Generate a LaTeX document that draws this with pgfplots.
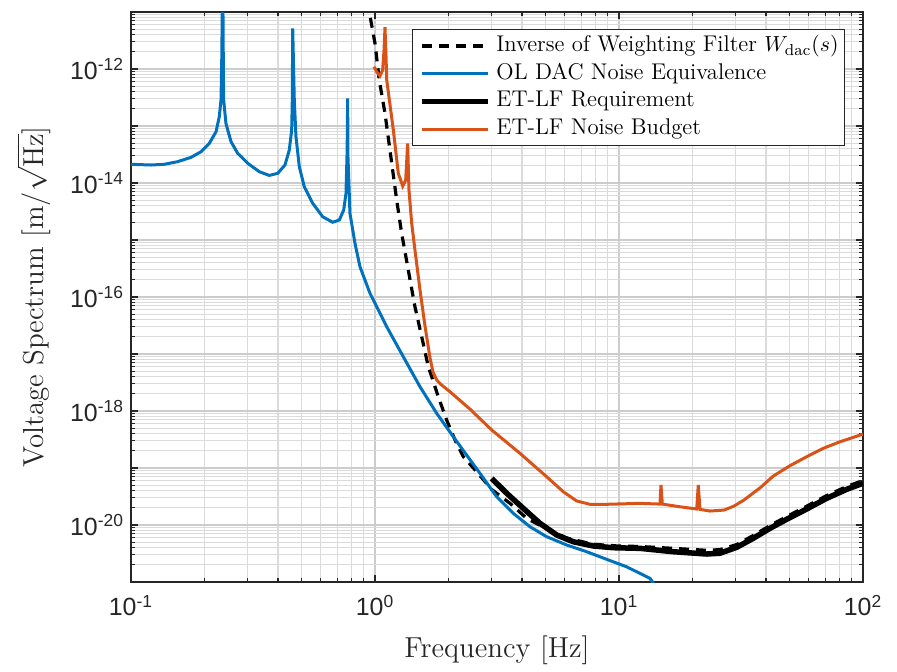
\documentclass[border=0pt]{standalone}
\usepackage{fontspec}
\usepackage{pgfplots}
\pgfplotsset{compat=1.18}
\newfontfamily\ticksf{Liberation Sans}
\definecolor{mblue}{rgb}{0,0.447,0.741}
\definecolor{morange}{rgb}{0.85,0.325,0.098}

\begin{document}
\begin{tikzpicture}
\begin{axis}[
  scale only axis, width=366bp, height=285bp,
  xmode=log, ymode=log,
  xmin=0.1, xmax=100, ymin=1e-21, ymax=1e-11,
  xtick={0.1,1,10,100},
  xticklabels={{10\textsuperscript{-1}},{10\textsuperscript{0}},{10\textsuperscript{1}},{10\textsuperscript{2}}},
  ytick={1e-21,1e-20,1e-19,1e-18,1e-17,1e-16,1e-15,1e-14,1e-13,1e-12,1e-11},
  yticklabels={{},{10\textsuperscript{-20}},{},{10\textsuperscript{-18}},{},{10\textsuperscript{-16}},{},{10\textsuperscript{-14}},{},{10\textsuperscript{-12}},{}},
  grid=both,
  major grid style={black!20, line width=0.6bp},
  minor grid style={black!14, line width=0.6bp},
  axis line style={black!85, line width=0.6bp},
  tick align=inside,
  tick style={black!85, line width=0.6bp},
  major tick length=3.5bp, minor tick length=2bp,
  ticklabel style={font=\ticksf\fontsize{12.5}{14}\selectfont, text=black!85},
  xticklabel style={yshift=-3bp},
  xlabel={Frequency [Hz]},
  ylabel={Voltage Spectrum [m/$\sqrt{\mathrm{Hz}}$]},
  label style={font=\fontsize{14.5}{17}\selectfont, text=black!85},
  xlabel style={at={(axis description cs:0.5,0)}, anchor=center, yshift=-34bp},
  ylabel style={at={(axis description cs:0,0.5)}, anchor=center, yshift=48.5bp},
  legend cell align=left,
  legend image code/.code={\draw[#1] (0bp,0bp) -- (33bp,0bp);},
  legend style={at={(axis description cs:1,1)}, anchor=north east,
    xshift=-9bp, yshift=-8.5bp, draw=black!85, line width=0.5bp, fill=white,
    font=\fontsize{11.4}{13}\selectfont, inner xsep=3bp, inner ysep=2.5bp,
    row sep=2.35bp, column sep=3bp,
    nodes={inner sep=0bp, text height=8.5bp, text depth=3bp}},
]
% inverse of weighting filter
\addplot[black, line width=1.6bp, dash pattern=on 5bp off 3.5bp] coordinates {
(0.93,1.55e-11)(0.9476,1e-11)(1.0,2.82e-12)(1.041,6.41e-13)(1.099,1.67e-13)
(1.171,2.22e-14)(1.227,5.04e-15)(1.286,1.31e-15)(1.369,2.98e-16)(1.458,6.76e-17)
(1.554,2.01e-17)(1.654,5.98e-18)(1.708,4.0e-18)(1.817,1.78e-18)(1.967,6.95e-19)
(2.128,3.1e-19)(2.301,1.58e-19)(2.611,8.6e-20)(3.008,4.2e-20)(3.576,2.40e-20)
(4.185,1.31e-20)(5.054,8.6e-21)(6.106,5.9e-21)(7.847,4.6e-21)(9.79,4.3e-21)
(12.19,4.2e-21)(16.69,3.9e-21)(22.88,3.6e-21)(25.94,3.7e-21)(30.37,4.55e-21)
(35.51,6.55e-21)(41.58,9.8e-21)(48.68,1.41e-20)(58.79,2.14e-20)(71.0,3.29e-20)
(85.76,4.74e-20)(100,6.05e-20)
};
\addlegendentry{Inverse of Weighting Filter $W_{\mathrm{dac}}(s)$}
% OL DAC noise equivalence
\addplot[mblue, line width=1.5bp] coordinates {
(0.1,2.13e-14)(0.1208,2.07e-14)(0.1369,2.13e-14)(0.1553,2.37e-14)(0.1762,2.82e-14)
(0.1936,3.54e-14)(0.2094,4.97e-14)(0.2231,7.94e-14)(0.2301,1.46e-13)(0.2338,2.86e-13)
(0.2353,1.1e-12)(0.2376,5e-11)(0.2391,1.0e-12)(0.2398,2.86e-13)(0.2450,1.11e-13)
(0.2570,5.31e-14)(0.2737,3.32e-14)(0.3009,2.22e-14)(0.3357,1.58e-14)(0.3688,1.36e-14)
(0.3993,1.48e-14)(0.4277,2.07e-14)(0.4454,3.79e-14)(0.4556,8.51e-14)(0.4582,2.86e-13)
(0.4600,5.18e-12)(0.4669,2.86e-13)(0.4744,6.49e-14)(0.4896,1.93e-14)(0.5131,8.61e-15)
(0.5556,4.41e-15)(0.6105,2.56e-15)(0.6709,2.05e-15)(0.7141,2.24e-15)(0.7443,3.36e-15)
(0.7607,6.59e-15)(0.7690,3.79e-14)(0.7727,3.06e-13)(0.7748,3.0e-14)(0.7896,2.94e-15)
(0.8279,8.75e-16)(0.8679,3.40e-16)(0.9539,1.16e-16)(1.117,3.01e-17)(1.306,8.97e-18)
(1.529,2.67e-18)(1.790,9.12e-19)(2.094,3.54e-19)(2.266,2.22e-19)(2.693,8.07e-20)
(3.153,3.13e-20)(3.688,1.60e-20)(4.317,9.33e-21)(5.054,6.24e-21)(6.106,4.46e-21)
(7.373,3.40e-21)(8.904,2.50e-21)(10.75,1.85e-21)(13.40,1.16e-21)(14.2,8e-22)
};
\addlegendentry{OL DAC Noise Equivalence}
% ET-LF requirement
\addplot[black, line width=2.75bp] coordinates {
(3.008,6.59e-20)(3.466,3.60e-20)(4.053,1.96e-20)(4.746,1.07e-20)(5.556,6.68e-21)
(6.496,5.09e-21)(7.847,4.29e-21)(9.475,4.0e-21)(12.19,3.90e-21)(16.69,3.40e-21)
(22.88,3.10e-21)(25.94,3.2e-21)(30.37,4.06e-21)(35.51,5.85e-21)(41.58,8.75e-21)
(48.68,1.26e-20)(58.79,1.91e-20)(71.0,2.94e-20)(85.76,4.23e-20)(100,5.4e-20)
};
\addlegendentry{ET-LF Requirement}
% ET-LF noise budget
\addplot[morange, line width=1.5bp] coordinates {
(0.9906,1.10e-12)(1.016,8.97e-13)(1.048,7.54e-13)(1.075,9.59e-13)(1.089,2.16e-12)
(1.099,5.40e-12)(1.110,1.6e-12)(1.117,6.41e-13)(1.189,8.51e-14)(1.246,1.48e-14)
(1.299,8.85e-15)(1.336,1.13e-14)(1.361,4.97e-14)(1.378,7.54e-15)(1.414,1.96e-15)
(1.458,6.68e-16)(1.529,1.33e-16)(1.603,3.1e-17)(1.681,8.5e-18)(1.729,4.83e-18)
(1.790,3.50e-18)(1.865,2.92e-18)(2.029,2.18e-18)(2.451,1.08e-18)(3.008,4.65e-19)
(3.929,1.81e-19)(5.054,7.03e-20)(5.911,3.84e-20)(6.708,2.64e-20)(7.605,2.31e-20)
(8.904,2.31e-20)(12.19,2.40e-20)(14.72,2.33e-20)(14.86,5.04e-20)(15.05,2.33e-20)
(17.78,2.09e-20)(20.82,1.91e-20)(21.13,5.04e-20)(21.48,1.88e-20)(23.6,1.76e-20)
(26.93,1.83e-20)(29.60,2.15e-20)(32.54,2.75e-20)(38.08,4.58e-20)(42.89,7.24e-20)
(50.22,1.10e-19)(58.79,1.58e-19)(68.78,2.22e-19)(80.47,2.89e-19)(100,3.94e-19)
};
\addlegendentry{ET-LF Noise Budget}
\end{axis}
\path (current axis.south west) +(-65.5bp,-41bp) (current axis.north east) +(17bp,6bp);
\end{tikzpicture}
\end{document}
